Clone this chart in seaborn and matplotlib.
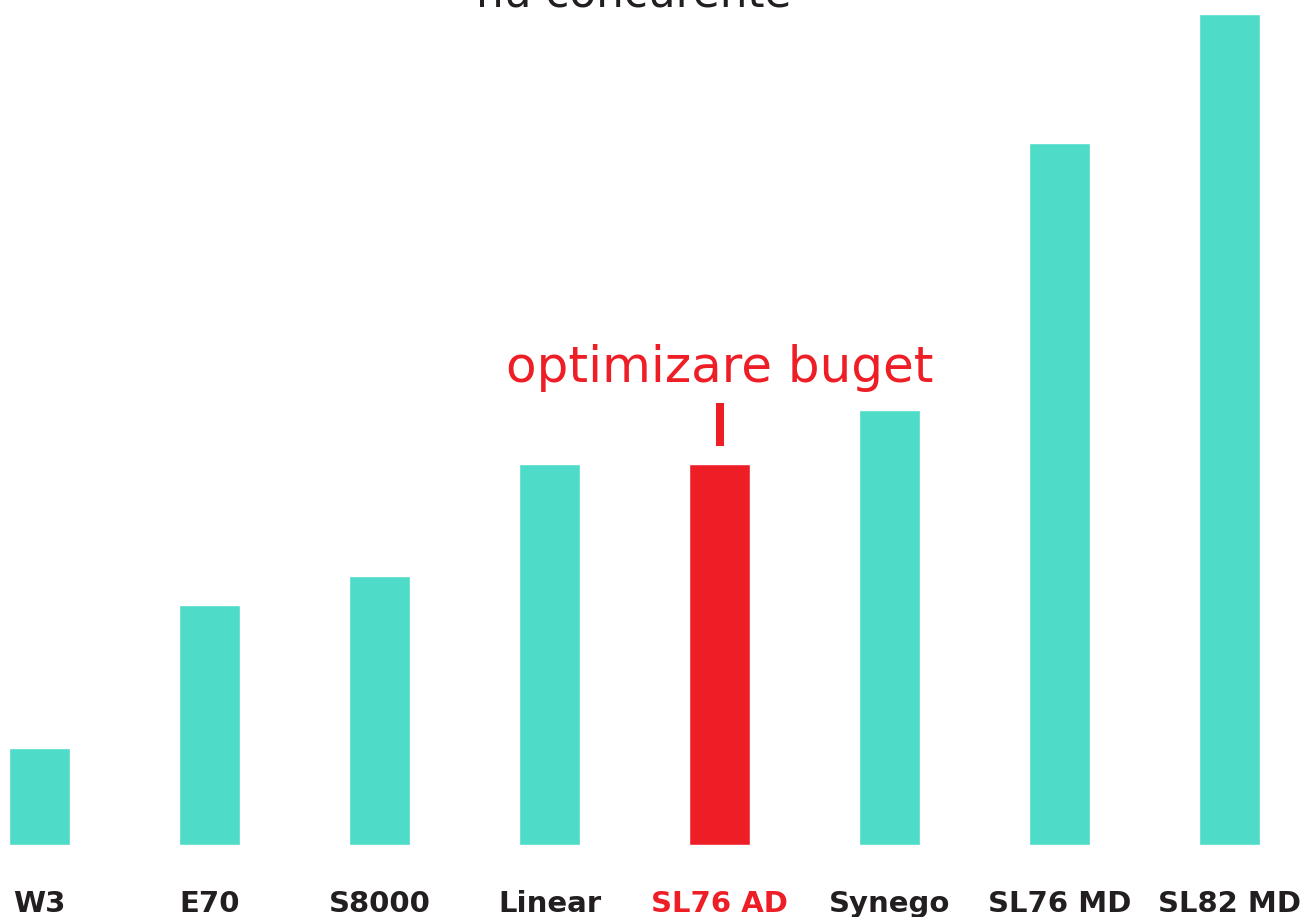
import seaborn as sns
import matplotlib.pyplot as plt
import pandas as pd

# Datos
modele = ['W3', 'E70', 'S8000', 'Linear', 'SL76 AD', 'Synego', 'SL76 MD', 'SL82 MD']
valori = [97, 240, 269, 381, 381, 435, 702, 831]
evidentiat = 'SL76 AD'

teal = '#4EDCC8'
rosu = '#EE1E26'
text_inchis = '#231F20'

df = pd.DataFrame({'model': modele, 'valoare': valori})
culori = {m: (rosu if m == evidentiat else teal) for m in modele}

sns.set_style('white')
plt.rcParams['font.family'] = ['DejaVu Sans']

fig = plt.figure(figsize=(13.04, 9.17), dpi=100)
ax = fig.add_axes([0, 0, 1, 1])

sns.barplot(data=df, x='model', y='valoare', hue='model', palette=culori,
            width=0.36, saturation=1, legend=False, ax=ax)

ax.set_xlim(-0.2324, 7.438)
ax.set_ylim(-72, 845)
ax.axis('off')

# Etichete sub bare
for i, m in enumerate(modele):
    ax.text(i, -67, m, ha='center', va='baseline', fontsize=21, fontweight='bold',
            color=rosu if m == evidentiat else text_inchis)

# Marcaj pentru varianta evidentiata
i_ev = modele.index(evidentiat)
v_ev = valori[i_ev]
ax.vlines(i_ev, v_ev + 18, v_ev + 61, color=rosu, linewidth=5.8)
ax.text(i_ev, v_ev + 82, 'optimizare buget', ha='center', va='baseline',
        fontsize=36, color=rosu)

# Titlu (taiat sus)
ax.text(3.497, 837, 'nu concurente', ha='center', va='baseline',
        fontsize=31.5, color=text_inchis)

fig.savefig('out.png', dpi=100)
